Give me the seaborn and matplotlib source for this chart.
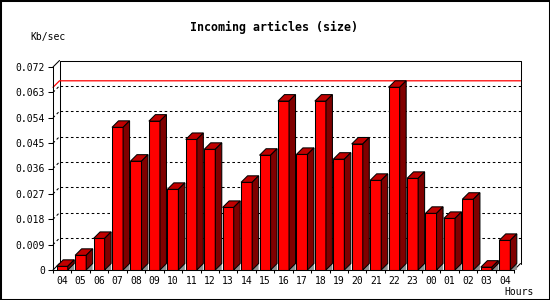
import matplotlib
matplotlib.use("Agg")
import matplotlib.pyplot as plt
from matplotlib.patches import Polygon, Rectangle
import seaborn as sns
import pandas as pd

# ---- data ----
hours = ["04", "05", "06", "07", "08", "09", "10", "11", "12", "13", "14", "15", "16",
         "17", "18", "19", "20", "21", "22", "23", "00", "01", "02", "03", "04"]
rates = [0.0013, 0.0052, 0.0112, 0.0506, 0.0386, 0.0528, 0.0286, 0.0463, 0.0428,
         0.0222, 0.0311, 0.0407, 0.0599, 0.0410, 0.0599, 0.0393, 0.0447, 0.0318,
         0.0648, 0.0325, 0.0201, 0.0183, 0.0251, 0.0010, 0.0105]
ytick_vals = [0, 0.009, 0.018, 0.027, 0.036, 0.045, 0.054, 0.063, 0.072]
ytick_labels = ["0", "0.009", "0.018", "0.027", "0.036", "0.045", "0.054", "0.063", "0.072"]
title = "Incoming articles (size)"
ylabel = "Kb/sec"
xlabel = "Hours"

sns.set_theme(style="white")
plt.rcParams["font.family"] = ["DejaVu Sans Mono", "DejaVu Sans"]

W, H = 550, 300
fig = plt.figure(figsize=(W / 100, H / 100), dpi=100)
fig.patch.set_facecolor("white")

# front axes region (pixels): x 53..514, y 270..67
ax = fig.add_axes([53 / W, 30 / H, 461 / W, 203 / H])
ax.set_facecolor("none")

lw = 0.75
df = pd.DataFrame({"slot": list(range(len(hours))), "rate": rates})
sns.barplot(data=df, x="slot", y="rate", color="#ff0000", saturation=1,
            width=0.6, edgecolor="black", linewidth=lw, ax=ax, zorder=5)

n = len(hours)
ax.set_xlim(-0.5, n - 0.5)
ax.set_ylim(0, 0.072)

# depth offsets in data units (~6.5 px)
px_x = 461 / n
px_y = 203 / 0.072
dx = 6.5 / px_x
dy = 6.5 / px_y

for p in list(ax.patches):
    x0, w, h = p.get_x(), p.get_width(), p.get_height()
    top = Polygon([(x0, h), (x0 + w, h), (x0 + w + dx, h + dy), (x0 + dx, h + dy)],
                  closed=True, facecolor="#c00000", edgecolor="black", lw=lw, zorder=5)
    side = Polygon([(x0 + w, 0), (x0 + w, h), (x0 + w + dx, h + dy), (x0 + w + dx, dy)],
                   closed=True, facecolor="#800000", edgecolor="black", lw=lw, zorder=5)
    shadow = Polygon([(x0 + w, 0), (x0 + w + dx, dy), (x0 + w + dx, 0)],
                     closed=True, facecolor="#909090", edgecolor="none", zorder=4)
    for a in (top, side, shadow):
        a.set_clip_on(False)
        ax.add_patch(a)

xl, xr = -0.5, n - 0.5
ymax = 0.072
kw = dict(color="black", lw=lw, clip_on=False, zorder=2)
ax.plot([xl + dx, xl + dx, xr + dx, xr + dx], [dy, ymax + dy, ymax + dy, dy], **kw)
ax.plot([xl, xl + dx], [ymax, ymax + dy], **kw)
ax.plot([xl, xl + dx], [0, dy], **kw)
ax.plot([xr, xr + dx], [0, dy], **kw)

# dotted grid on back wall
for t in ytick_vals[1:-1]:
    ax.plot([xl + dx, xr + dx], [t + dy, t + dy], linestyle=(0, (2.5, 2.5)), **kw)
    ax.plot([xl, xl + dx], [t, t + dy], linestyle=(0, (2.5, 2.5)), **kw)

# max line
m = max(rates)
ax.plot([xl, xl + dx, xr + dx], [m, m + dy, m + dy], color="#ff0000", lw=0.9,
        clip_on=False, zorder=3)

for s in ("top", "right"):
    ax.spines[s].set_visible(False)
for s in ("left", "bottom"):
    ax.spines[s].set_visible(True)
    ax.spines[s].set_color("black")
    ax.spines[s].set_linewidth(lw)
    ax.spines[s].set_zorder(6)

ax.set_yticks(ytick_vals, labels=ytick_labels)
ax.set_xticks(range(n), labels=hours)
ax.set_xticks([i - 0.5 for i in range(n + 1)], minor=True)
ax.tick_params(axis="y", which="major", direction="out", length=3.6, width=lw,
               color="black", pad=2, labelsize=7, labelcolor="black", left=True)
ax.tick_params(axis="x", which="major", length=0, pad=4, labelsize=7, labelcolor="black")
ax.tick_params(axis="x", which="minor", direction="out", length=2.5, width=lw,
               color="black", bottom=True)
ax.set_xlabel("")
ax.set_ylabel("")

fig.text(274 / W, 1 - 27 / H, title, ha="center", va="center", fontsize=8.4,
         fontweight="bold", color="black")
fig.text(30 / W, 1 - 37 / H, ylabel, ha="left", va="center", fontsize=7, color="black")
fig.text(504 / W, 1 - 292 / H, xlabel, ha="left", va="center", fontsize=7, color="black")

fig.patches.append(Rectangle((0, 0), 1, 1, transform=fig.transFigure, fill=False,
                             edgecolor="black", lw=2.2, zorder=10))

fig.savefig("out.png", dpi=100, facecolor="white")
